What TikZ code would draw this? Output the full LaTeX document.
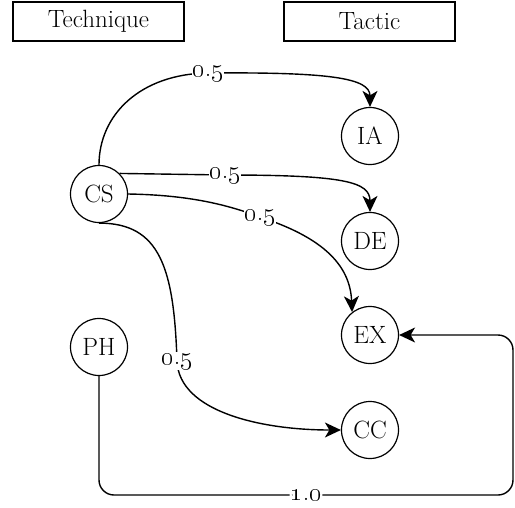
\documentclass[tikz,border=0pt]{standalone}
\usepackage{tikz}
\usetikzlibrary{arrows.meta}
\tikzset{
  edge/.style={-{Stealth[length=16pt,width=15pt,inset=4.5pt]}, line width=1.4pt, draw=black},
  weight/.style={fill=white, inner sep=1pt},
  header/.style={
    draw=black,
    line width=1.2pt,
    rectangle,
    minimum width=171pt,
    minimum height=39pt,
    font=\fontsize{25}{28}\selectfont
  },
  state/.style={
    circle,
    draw=black,
    line width=1.2pt,
    minimum size=57pt,
    inner sep=0pt,
    font=\fontsize{25}{28}\selectfont
  }
}
% old-style weight numbers
\newcommand{\wt}[2]{\scalebox{1.5}{\fontsize{17.28}{20}\selectfont\oldstylenums{#1}.\oldstylenums{#2}}}

\begin{document}
\begin{tikzpicture}[x=1pt, y=-1pt]
\useasboundingbox (0,0) rectangle (515,507);

% Headers
\node[header] (technique) at (98.5,21.5) {Technique};
\node[header] (tactic) at (369.5,21.5) {Tactic};

% Techniques
\node[state] (cs) at (99,194) {CS};
\node[state] (ph) at (99,347) {PH};

% Tactics
\node[state] (ia) at (370,136) {IA};
\node[state] (de) at (370,241) {DE};
\node[state] (ex) at (370,335) {EX};
\node[state] (cc) at (370,430) {CC};

% Weighted edges
\draw[edge] (cs.north) .. controls (99,115) and (140,74) .. (208,73) node[weight] {\wt{0}{5}}
  .. controls (330,72) and (370,78) .. (ia.north);
\draw[edge] (cs.45) -- (225,175) node[weight] {\wt{0}{5}}
  .. controls (345,175) and (370,182) .. (de.north);
\draw[edge] (cs.east) .. controls (190,195) and (228,205) .. (260,217) node[weight] {\wt{0}{5}}
  .. controls (318,236) and (350,262) .. (ex.128);
\draw[edge] (cs.south) .. controls (160,223) and (174,268) .. (177,361) node[weight] {\wt{0}{5}}
  .. controls (179,412) and (262,430) .. (cc.west);
\draw[edge, rounded corners=15pt] (ph.south) -- (99,495)
  -- node[weight] {\wt{1}{0}} (513,495) -- (513,335) -- (ex.east);

\end{tikzpicture}
\end{document}
